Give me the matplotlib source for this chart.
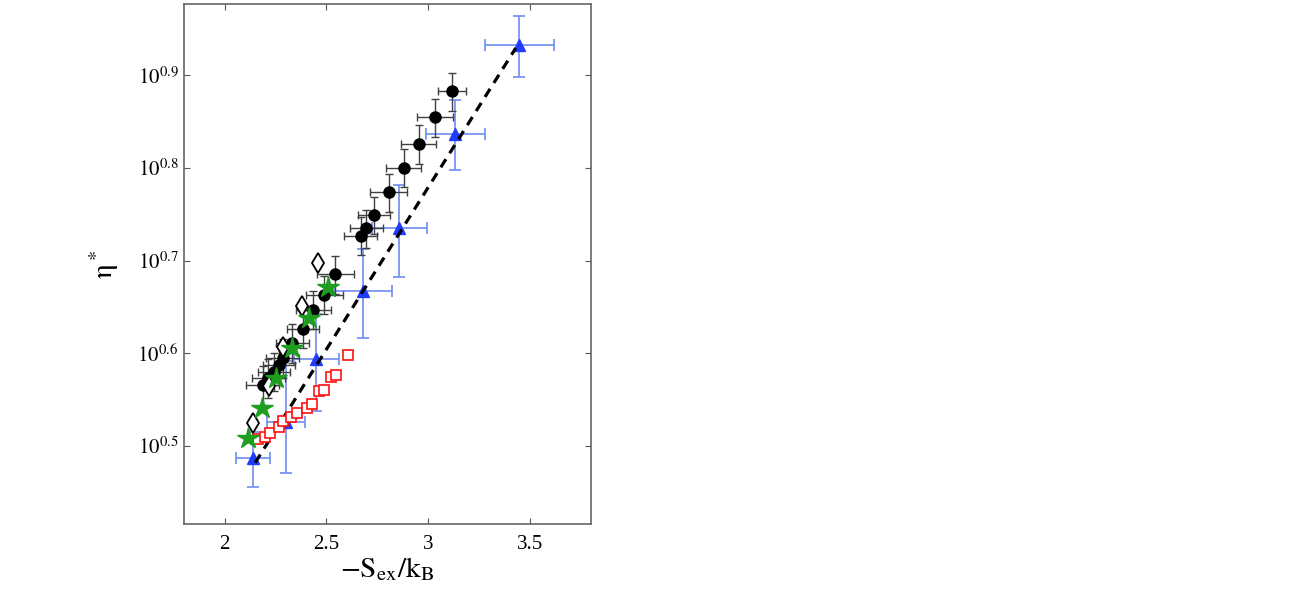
import numpy as np
import matplotlib
matplotlib.use("Agg")
import matplotlib.pyplot as plt
from matplotlib.ticker import FixedLocator, FixedFormatter, NullLocator

plt.rcParams['font.family'] = ['Liberation Serif', 'DejaVu Serif']
plt.rcParams['mathtext.fontset'] = 'stix'

# black circles (with error bars)
circ_x = [2.186, 2.214, 2.243, 2.268, 2.285, 2.333, 2.385, 2.435, 2.489, 2.544,
          2.668, 2.696, 2.734, 2.805, 2.880, 2.953, 3.034, 3.118]
circ_y = [3.680, 3.744, 3.802, 3.869, 3.936, 4.083, 4.230, 4.436, 4.604, 4.844,
          5.332, 5.429, 5.608, 5.937, 6.310, 6.696, 7.152, 7.631]
circ_xerr = [0.08, 0.08, 0.08, 0.08, 0.08, 0.08, 0.08, 0.085, 0.09, 0.09,
             0.08, 0.08, 0.08, 0.09, 0.085, 0.086, 0.087, 0.068]
circ_yerr = [0.18, 0.18, 0.18, 0.19, 0.19, 0.20, 0.20, 0.21, 0.22, 0.23,
             0.25, 0.26, 0.26, 0.28, 0.30, 0.32, 0.34, 0.36]

# blue triangles (large error bars)
tri_x = [2.138, 2.302, 2.450, 2.682, 2.858, 3.134, 3.447]
tri_y = [3.066, 3.359, 3.923, 4.650, 5.430, 6.870, 8.560]
tri_xerr = [0.084, 0.094, 0.111, 0.141, 0.136, 0.143, 0.169]
tri_yerr_lo = [0.21, 0.40, 0.47, 0.51, 0.62, 0.60, 0.65]
tri_yerr_hi = [0.21, 0.55, 0.47, 0.51, 0.62, 0.60, 0.65]

# green stars
star_x = [2.117, 2.183, 2.252, 2.333, 2.414, 2.508]
star_y = [3.223, 3.475, 3.742, 4.035, 4.345, 4.688]

# open diamonds
diam_x = [2.140, 2.216, 2.286, 2.379, 2.459]
diam_y = [3.351, 3.668, 4.045, 4.473, 4.977]

# red open squares
sq_x = [2.166, 2.200, 2.225, 2.266, 2.289, 2.326, 2.354, 2.404, 2.428, 2.464,
        2.487, 2.524, 2.547, 2.605]
sq_y = [3.214, 3.236, 3.264, 3.318, 3.361, 3.395, 3.432, 3.478, 3.513, 3.624,
        3.638, 3.752, 3.774, 3.966]

# dashed fit: log10(eta) = fit_a + fit_b * (x - fit_x0)
fit_x0 = 2.15
fit_a = 0.482
fit_b = 0.3494
fit_range = [2.15, 3.43]

fig = plt.figure(figsize=(12.91, 5.99), dpi=100)
ax = fig.add_axes([0.1425, 0.1252, 0.3153, 0.8681])

ax.errorbar(tri_x, tri_y, xerr=tri_xerr, yerr=[tri_yerr_lo, tri_yerr_hi],
            fmt='none', ecolor='#6f8cf0', elinewidth=1.2, capsize=4, capthick=1.2, zorder=2)
ax.plot(tri_x, tri_y, '^', color='#1f3cff', ms=8, mec='#1f3cff', zorder=3)

ax.errorbar(circ_x, circ_y, xerr=circ_xerr, yerr=circ_yerr,
            fmt='none', ecolor='0.25', elinewidth=1.0, capsize=3, capthick=1.0, zorder=2)
ax.plot(circ_x, circ_y, 'o', color='black', ms=8, zorder=4)

fx = np.array(fit_range)
ax.plot(fx, 10 ** (fit_a + fit_b * (fx - fit_x0)), '--', color='black', lw=2.3,
        dashes=(3, 2.2), zorder=3.5)

ax.plot(sq_x, sq_y, 's', mfc='white', mec='#ff1010', mew=1.2, ms=7, zorder=5)
ax.plot(diam_x, diam_y, 'd', mfc='white', mec='black', mew=1.3, ms=10.5, zorder=5)
ax.plot(star_x, star_y, '*', color='#1e9e1e', ms=16, zorder=6)

ax.set_yscale('log')
ax.set_xlim(1.8, 3.8)
ax.set_ylim(2.605, 9.48)

yt = [0.5, 0.6, 0.7, 0.8, 0.9]
ax.yaxis.set_major_locator(FixedLocator([10 ** v for v in yt]))
ax.yaxis.set_major_formatter(FixedFormatter([r'$10^{%.1f}$' % v for v in yt]))
ax.yaxis.set_minor_locator(NullLocator())
ax.set_xticks([2, 2.5, 3, 3.5])
ax.set_xticklabels(['2', '2.5', '3', '3.5'])

ax.tick_params(direction='in', top=True, right=True, length=4, width=0.8,
               labelsize=15, color='0.35')
ax.tick_params(axis='x', pad=8)
ax.tick_params(axis='y', pad=4)
for s in ax.spines.values():
    s.set_color('0.4')
    s.set_linewidth(1.2)

ax.set_xlabel(r'$\mathrm{-S_{ex}/k_B}$', fontsize=21, labelpad=1)
ax.set_ylabel(r'$\mathrm{\eta}^*$', fontsize=21, labelpad=12)

fig.savefig('out.png', dpi=100)
